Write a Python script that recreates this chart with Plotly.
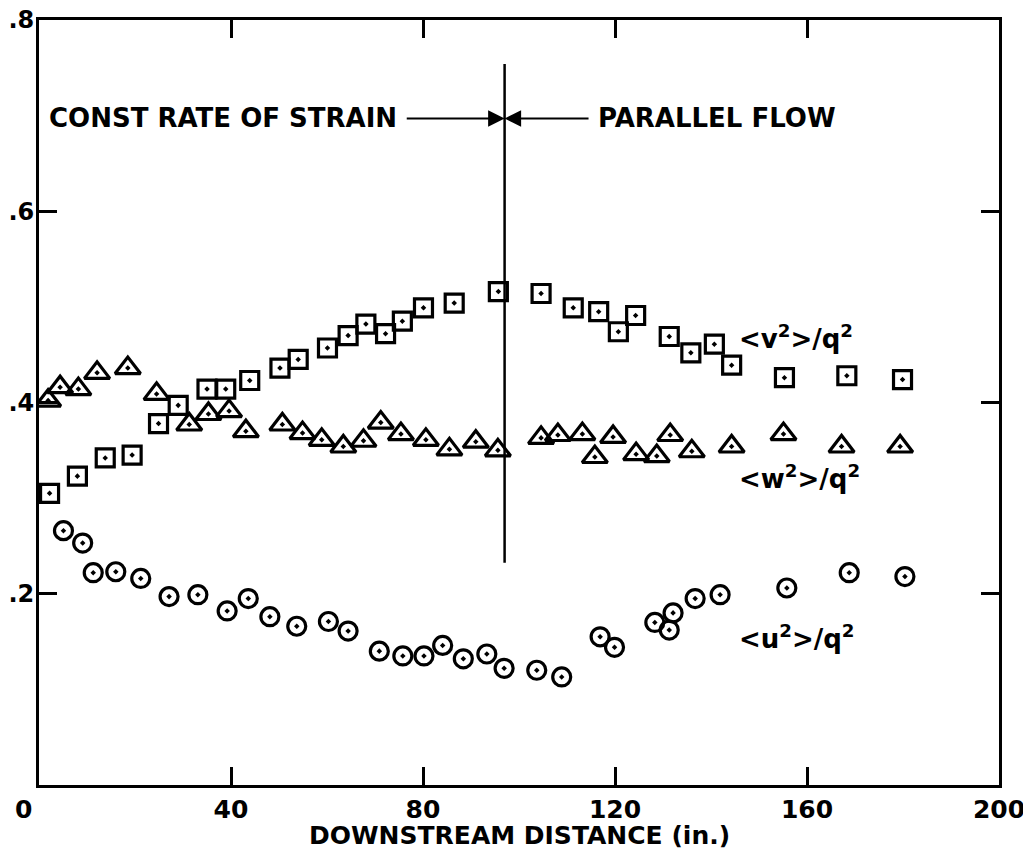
import plotly.graph_objects as go

# <v^2>/q^2  (squares)
v_x = [2.2, 8.0, 13.8, 19.4, 24.9, 29.0, 35.0, 38.9, 43.9, 50.2, 54.0, 60.1, 64.4,
       68.1, 72.2, 75.7, 80.1, 86.5, 95.7, 104.6, 111.3, 116.6, 120.7, 124.3, 131.3,
       135.8, 140.7, 144.3, 155.3, 168.3, 179.9]
v_y = [0.305, 0.323, 0.342, 0.345, 0.378, 0.397, 0.414, 0.414, 0.423, 0.436, 0.445, 0.457, 0.470,
       0.482, 0.472, 0.485, 0.499, 0.504, 0.516, 0.514, 0.499, 0.495, 0.474, 0.491, 0.469,
       0.452, 0.461, 0.439, 0.426, 0.428, 0.424]

# <w^2>/q^2  (triangles)
w_x = [1.9, 4.4, 8.2, 12.1, 18.5, 24.5, 31.3, 35.3, 39.6, 43.1, 50.7, 54.9, 58.9, 63.4,
       67.6, 71.2, 75.4, 80.6, 85.5, 91.0, 95.6, 104.6, 108.1, 113.2, 115.8, 119.6, 124.4,
       128.7, 131.5, 136.0, 144.3, 155.1, 167.2, 179.4]
w_y = [0.402, 0.416, 0.414, 0.431, 0.436, 0.409, 0.377, 0.388, 0.391, 0.370, 0.377, 0.368, 0.361, 0.354,
       0.360, 0.379, 0.367, 0.361, 0.351, 0.359, 0.350, 0.363, 0.366, 0.367, 0.343, 0.364, 0.346,
       0.344, 0.366, 0.349, 0.354, 0.367, 0.354, 0.354]

# <u^2>/q^2  (circles)
u_x = [5.1, 9.1, 11.3, 16.0, 21.2, 27.1, 33.1, 39.2, 43.6, 48.1, 53.7, 60.3, 64.4,
       70.9, 75.8, 80.2, 84.1, 88.4, 93.3, 96.9, 103.7, 108.9, 116.9, 119.9, 128.3, 131.3,
       132.1, 136.7, 141.9, 155.8, 168.8, 180.4]
u_y = [0.266, 0.253, 0.222, 0.223, 0.216, 0.197, 0.199, 0.182, 0.195, 0.176, 0.166, 0.171, 0.161,
       0.140, 0.135, 0.135, 0.146, 0.132, 0.137, 0.122, 0.120, 0.113, 0.155, 0.144, 0.170, 0.162,
       0.180, 0.195, 0.199, 0.206, 0.222, 0.218]

x_tickvals = [0, 40, 80, 120, 160, 200]
x_ticktext = ["", "40", "80", "120", "160", "200"]
y_tickvals = [0, 0.2, 0.4, 0.6, 0.8]
y_ticktext = ["", ".2", ".4", ".6", ".8"]

BOUNDARY_X = 97.0
BOUNDARY_Y = [0.2325, 0.754]
ARROW_Y = 0.697
ARROW_LEFT_START = 76.3
ARROW_RIGHT_START = 114.8

FONT = "DejaVu Sans"
BLACK = "black"

fig = go.Figure()

def add_series(xs, ys, symbol, size, name):
    fig.add_trace(go.Scatter(
        x=xs, y=ys, mode="markers", name=name,
        marker=dict(symbol=symbol, size=size, color=BLACK,
                    line=dict(width=3.2, color=BLACK)),
        showlegend=False,
    ))

add_series(v_x, v_y, "square-open-dot", 18, "<v²>/q²")
add_series(w_x, w_y, "triangle-up-open-dot", 22, "<w²>/q²")
add_series(u_x, u_y, "circle-open-dot", 18, "<u²>/q²")

# boundary line
fig.add_shape(type="line", x0=BOUNDARY_X, x1=BOUNDARY_X, y0=BOUNDARY_Y[0], y1=BOUNDARY_Y[1],
              xref="x", yref="y", line=dict(color=BLACK, width=2.5))

# arrows
for start in (ARROW_LEFT_START, ARROW_RIGHT_START):
    fig.add_annotation(x=BOUNDARY_X, y=ARROW_Y, ax=start, ay=ARROW_Y,
                       xref="x", yref="y", axref="x", ayref="y",
                       text="", showarrow=True, arrowhead=2, arrowsize=1.5,
                       arrowwidth=2.2, arrowcolor=BLACK, standoff=0)

txtfont = dict(family=FONT, size=26, color=BLACK, weight="bold")
fig.add_annotation(x=ARROW_LEFT_START, y=ARROW_Y, xref="x", yref="y",
                   text="CONST RATE OF STRAIN", showarrow=False,
                   xanchor="right", yanchor="middle", xshift=-6, font=txtfont)
fig.add_annotation(x=ARROW_RIGHT_START, y=ARROW_Y, xref="x", yref="y",
                   text="PARALLEL FLOW", showarrow=False,
                   xanchor="left", yanchor="middle", xshift=6, font=txtfont)

lblfont = dict(family=FONT, size=26, color=BLACK, weight="bold")
series_labels = [("&lt;v<sup>2</sup>&gt;/q<sup>2</sup>", 0.468),
                 ("&lt;w<sup>2</sup>&gt;/q<sup>2</sup>", 0.3225),
                 ("&lt;u<sup>2</sup>&gt;/q<sup>2</sup>", 0.155)]
for t, yv in series_labels:
    fig.add_annotation(x=145.5, y=yv, xref="x", yref="y", text=t, showarrow=False,
                       xanchor="left", yanchor="middle", font=lblfont)

tickfont = dict(family=FONT, size=25, color=BLACK, weight="bold")

# corner zero label
fig.add_annotation(x=0, y=0, xref="x", yref="y", text="0", showarrow=False,
                   xanchor="center", yanchor="top", xshift=-16, yshift=-8,
                   font=tickfont)

# x-axis title
fig.add_annotation(x=0.5, y=0, xref="paper", yref="paper",
                   text="DOWNSTREAM DISTANCE (in.)", showarrow=False,
                   xanchor="center", yanchor="middle", yshift=-50,
                   font=dict(family=FONT, size=25, color=BLACK, weight="bold"))

# The page body has an 8px margin, so size the figure to fit the 1031x862 window.
fig.update_layout(
    width=1023, height=854,
    margin=dict(l=31, r=32, t=12, b=77, autoexpand=False),
    paper_bgcolor="white", plot_bgcolor="white",
    font=dict(family=FONT, size=25, color=BLACK),
)
fig.update_xaxes(
    range=[0, 200], tickvals=x_tickvals, ticktext=x_ticktext,
    showline=True, linewidth=3, linecolor=BLACK, mirror="ticks",
    ticks="inside", ticklen=18, tickwidth=2.5, tickcolor=BLACK,
    showgrid=False, zeroline=False, automargin=False,
    ticklabeloverflow="allow",
    tickfont=tickfont,
)
fig.update_yaxes(
    range=[0, 0.8], tickvals=y_tickvals, ticktext=y_ticktext,
    showline=True, linewidth=3, linecolor=BLACK, mirror="ticks",
    ticks="inside", ticklen=18, tickwidth=2.5, tickcolor=BLACK,
    showgrid=False, zeroline=False, automargin=False,
    ticklabeloverflow="allow", ticklabelstandoff=-3,
    tickfont=dict(family=FONT, size=24, color=BLACK, weight="bold"),
)

fig.write_html("out.html")
